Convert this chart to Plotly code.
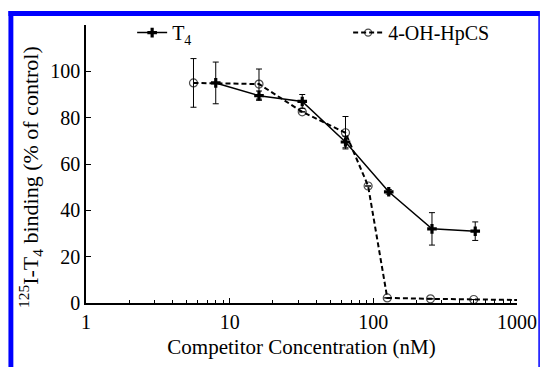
import plotly.graph_objects as go

# Data
t4_x = [8, 16, 32, 64, 128, 256, 512]
t4_y = [95, 89.5, 87, 69.5, 48, 32, 31]
t4_err = [9, 2, 3, 2.5, 1, 7, 4]

oh_x = [5.6, 16, 32, 64, 92, 125, 250, 500, 1000]
oh_y = [95, 94.5, 82.5, 73.5, 50.5, 2.2, 1.8, 1.5, 1.3]
oh_err = [10.5, 6.5, 0, 7, 0, 0, 0, 0, 0]
oh_msize = [8, 8, 8, 8, 8, 8, 8, 8, 0]

y_ticks = [0, 20, 40, 60, 80, 100, 120]
y_ticktext = ["0", "20", "40", "60", "80", "100", ""]
x_ticks = [1, 10, 100, 1000]
x_ticktext = ["1", "10", "100", "1000"]

FONT = "Liberation Serif, Times New Roman, Times, serif"

fig = go.Figure()

fig.add_trace(go.Scatter(
    x=t4_x, y=t4_y, mode="lines+markers", name="T<sub>4</sub>", legend="legend",
    line=dict(color="black", width=1.5),
    marker=dict(symbol="cross", size=8, color="black"),
    error_y=dict(type="data", array=t4_err, visible=True, color="black", thickness=1, width=3),
))

fig.add_trace(go.Scatter(
    x=oh_x, y=oh_y, mode="lines+markers", name="4-OH-HpCS", legend="legend2",
    line=dict(color="black", width=2, dash="5px,3px"),
    marker=dict(symbol="circle-open", size=oh_msize, color="black", line=dict(width=1.2)),
    error_y=dict(type="data", array=oh_err, visible=True, color="black", thickness=1, width=3),
))

W, H = 549, 367
L, R, T, B = 86, 24, 25, 62
pw, ph = W - L - R, H - T - B

def px_x(p):
    return (p - L) / pw

def px_y(p):
    return (H - B - p) / ph

shapes = [
    dict(type="rect", xref="paper", yref="paper", x0=px_x(7), x1=px_x(12), y0=px_y(380), y1=px_y(11),
         fillcolor="#0000ff", line=dict(width=0), layer="above"),
    dict(type="rect", xref="paper", yref="paper", x0=px_x(7), x1=px_x(548), y0=px_y(16), y1=px_y(11),
         fillcolor="#0000ff", line=dict(width=0), layer="above"),
    dict(type="line", xref="paper", yref="paper", x0=px_x(547.5), x1=px_x(547.5), y0=px_y(380), y1=px_y(11),
         line=dict(color="#0000ff", width=1.5), layer="above"),
]

legend_common = dict(xanchor="left", yanchor="top", bgcolor="rgba(0,0,0,0)",
                     font=dict(family=FONT, size=20, color="black"))

fig.update_layout(
    width=W, height=H, autosize=False,
    margin=dict(l=L, r=R, t=T, b=B, pad=0),
    paper_bgcolor="white", plot_bgcolor="white",
    font=dict(family=FONT, size=20, color="black"),
    showlegend=True,
    legend=dict(x=px_x(133), y=px_y(13), **legend_common),
    legend2=dict(x=px_x(353), y=px_y(13), **legend_common),
    shapes=shapes,
    annotations=[dict(
        text="<sup>125</sup>I-T<sub>4</sub> binding (% of control)",
        xref="paper", yref="paper", x=px_x(30), y=px_y(178), textangle=-90,
        showarrow=False, font=dict(family=FONT, size=22, color="black"),
        xanchor="center", yanchor="middle")],
)

fig.update_xaxes(
    type="log", range=[0, 3], tickvals=x_ticks, ticktext=x_ticktext,
    showline=True, linecolor="black", linewidth=1.5, mirror=False,
    ticks="inside", ticklen=5, tickwidth=1.2, tickcolor="black",
    minor=dict(ticks="inside", ticklen=3, tickwidth=1, tickcolor="black", dtick="D1", showgrid=False),
    showgrid=False, zeroline=False,
    title=dict(text="Competitor Concentration (nM)", font=dict(family=FONT, size=21, color="black"), standoff=8),
    tickfont=dict(family=FONT, size=20, color="black"),
)

fig.update_yaxes(
    range=[0, 120], tickvals=y_ticks, ticktext=y_ticktext,
    showline=True, linecolor="black", linewidth=1.5,
    ticks="inside", ticklen=5, tickwidth=1.2, tickcolor="black",
    showgrid=False, zeroline=False,
    tickfont=dict(family=FONT, size=20, color="black"),
)

fig.write_html("out.html")
